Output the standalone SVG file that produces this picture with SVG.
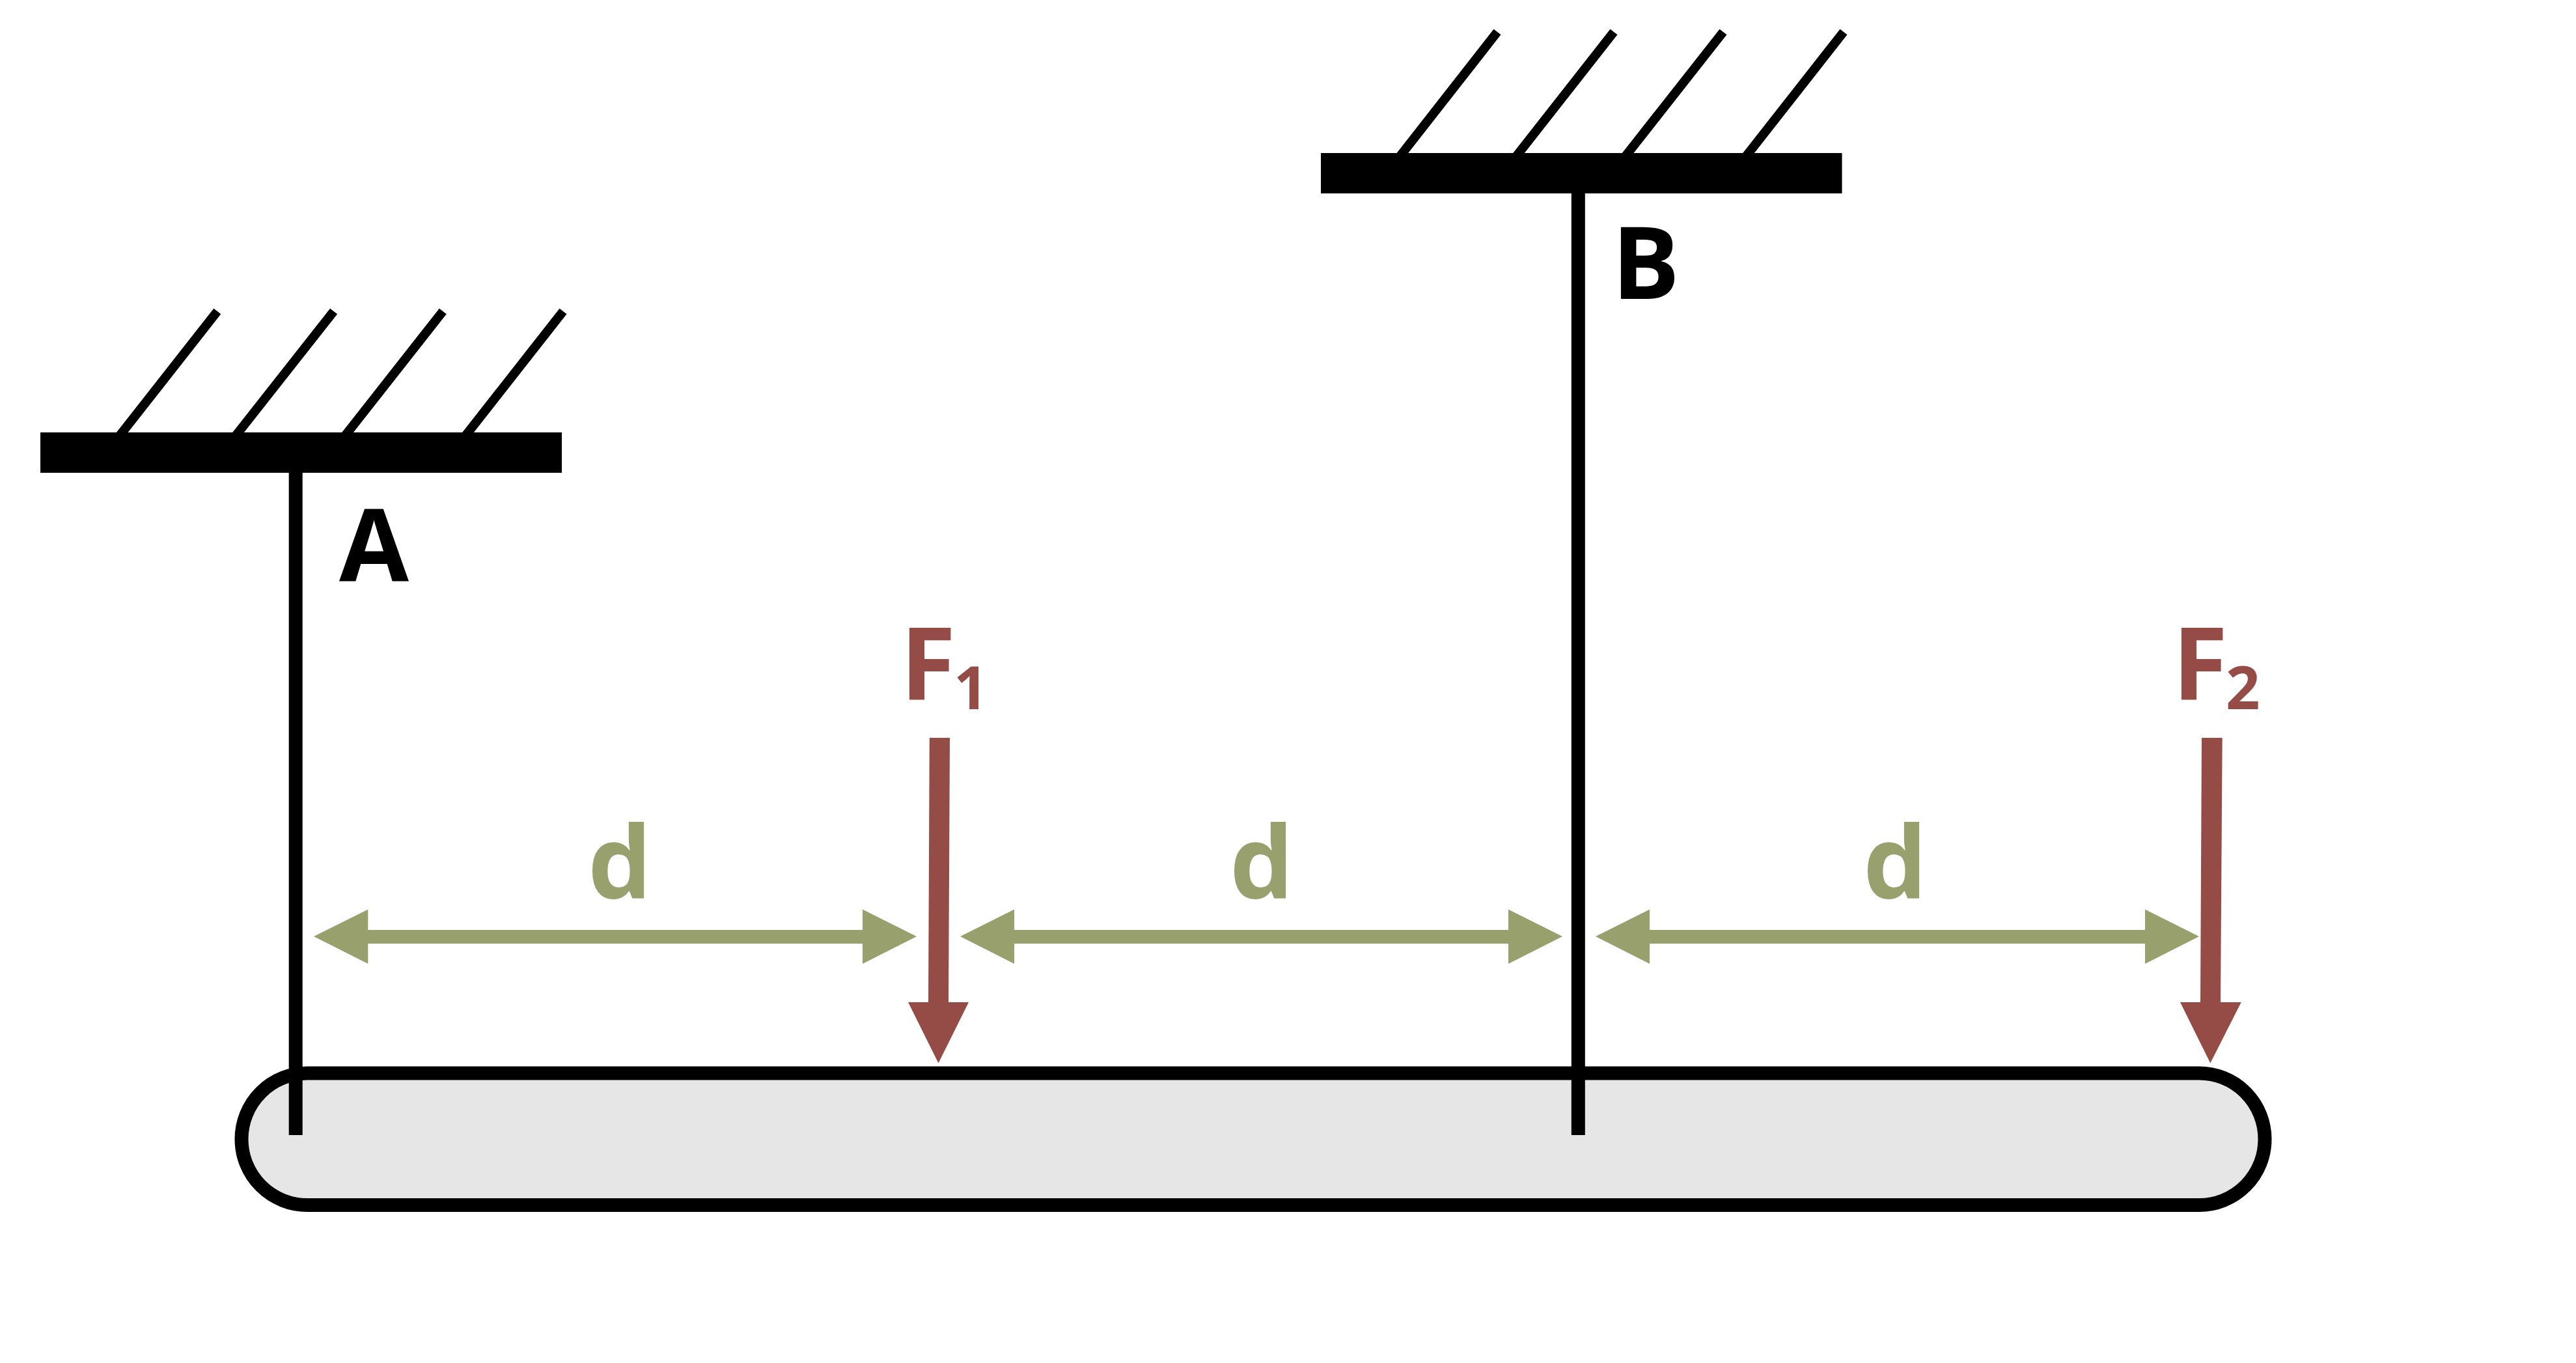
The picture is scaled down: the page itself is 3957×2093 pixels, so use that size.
<svg xmlns="http://www.w3.org/2000/svg" width="3957" height="2093" viewBox="0 0 3957 2093">
  <style>
    text { font-family: "Open Sans", "Noto Sans", sans-serif; font-weight: 700; }
    .lbl { font-size: 155px; }
    .sub { font-size: 92px; }
    .blk { fill: #000; }
    .force { fill: #954C46; }
    .dim { fill: #98A16D; }
    .hatch { stroke: #000; stroke-width: 14; fill: none; }
    .rod { stroke: #000; stroke-width: 21; fill: none; }
    .beam { fill: #E6E6E6; stroke: #000; stroke-width: 21; }
  </style>
  <rect width="3957" height="2093" fill="#fff"/>
  <g id="beam"><rect class="beam" x="371" y="1648" width="3108" height="202.5" rx="101" ry="101"/></g>
  <g id="support-a">
    <path class="hatch" d="M333.8 478L178.3 676M512.6 478L356.6 676M680.3 478L524.6 676M865 478L709.6 676"/>
    <rect class="blk" x="62" y="664" width="801" height="62"/>
  </g>
  <g id="support-b">
    <path class="hatch" d="M2300 49L2145 247M2479 49L2323.6 247M2647 49L2491.2 247M2832 49L2676.6 247"/>
    <rect class="blk" x="2029" y="235" width="800.5" height="62"/>
  </g>
  <g id="connectors">
    <path class="rod" d="M454.2 720V1743M2424.3 290V1743"/>
    <polygon class="force" points="1427.8,1133 1459,1133 1457,1539 1488,1539 1441.5,1632.5 1395,1539 1426,1539"/>
    <polygon class="force" points="3382,1133 3413.7,1133 3411,1539 3442.7,1539 3395.3,1632.5 3349,1539 3380,1539"/>
    <polygon class="dim" points="482,1438 565.3,1396.4 565.3,1428 1325,1428 1325,1396.4 1408,1438 1325,1480 1325,1449 565.3,1449 565.3,1480"/>
    <polygon class="dim" points="1475,1438 1558,1396.4 1558,1428 2317,1428 2317,1396.4 2400,1438 2317,1480 2317,1449 1558,1449 1558,1480"/>
    <polygon class="dim" points="2451,1438 2534,1396.4 2534,1428 3295,1428 3295,1396.4 3378,1438 3295,1480 3295,1449 2534,1449 2534,1480"/>
  </g>
  <g id="label-a"><text class="lbl blk" x="521" y="891.7">A</text></g>
  <g id="label-b"><text class="lbl blk" x="2476" y="459">B</text></g>
  <g id="label-f1"><text class="lbl force" x="1383" y="1075">F</text><text class="sub force" x="1465" y="1089">1</text></g>
  <g id="label-f2"><text class="lbl force" x="3337" y="1075">F</text><text class="sub force" x="3419" y="1089">2</text></g>
  <g id="label-d1"><text class="lbl dim" x="903" y="1378.6">d</text></g>
  <g id="label-d2"><text class="lbl dim" x="1889" y="1378.6">d</text></g>
  <g id="label-d3"><text class="lbl dim" x="2862" y="1378.6">d</text></g>
</svg>
